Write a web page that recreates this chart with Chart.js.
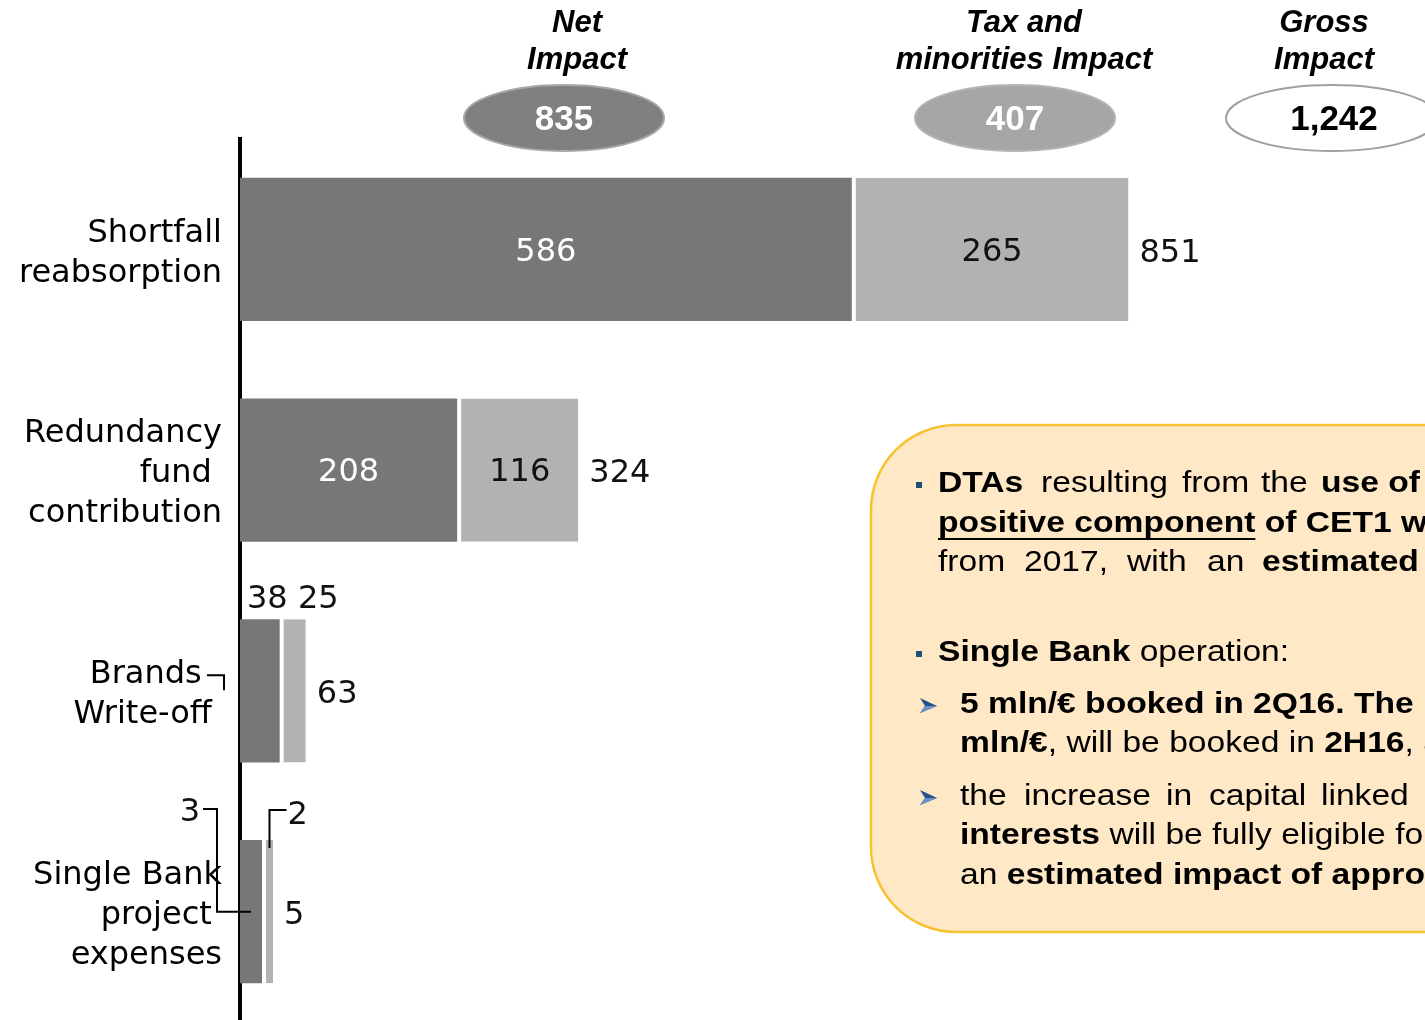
<!DOCTYPE html>
<html>
<head>
<meta charset="utf-8">
<script src="https://cdn.jsdelivr.net/npm/chart.js@4.4.1/dist/chart.umd.min.js"></script>
<style>
  html, body { margin: 0; padding: 0; background: #fff; overflow: hidden; }
  #wrap { width: 1425px; height: 1022px; position: relative; }
</style>
</head>
<body>
<div id="wrap"><canvas id="impactChart"></canvas></div>
<script>
// Data
const categories = [
    ['Shortfall', 'reabsorption'],
    ['Redundancy', 'fund ', 'contribution'],
    ['Brands  ', 'Write-off '],
    ['Single Bank', 'project ', 'expenses']
];
const netImpact = [586, 208, 38, 3];
const taxImpact = [265, 116, 25, 2];
const grossImpact = [851, 324, 63, 5];

const summaryTitles = [['Net', 'Impact'], ['Tax and', 'minorities Impact'], ['Gross', 'Impact']];
const summaryValues = ['835', '407', '1,242'];

const DARK = '#777777';
const LIGHT = '#b2b2b2';
const LABEL_FONT = '"DejaVu Sans", Verdana, sans-serif';
const ARIAL = '"Liberation Sans", Arial, sans-serif';

// draw a piece of text, optionally stretched horizontally; returns its width
function drawText(ctx, str, x, y, font, color, align, sx) {
    sx = sx || 1;
    ctx.save();
    ctx.font = font;
    ctx.fillStyle = color;
    ctx.textAlign = align || 'left';
    ctx.textBaseline = 'middle';
    ctx.translate(x, y);
    ctx.scale(sx, 1);
    ctx.fillText(str, 0, 0);
    const w = ctx.measureText(str).width * sx;
    ctx.restore();
    return w;
}

function line(ctx, pts) {
    ctx.save();
    ctx.strokeStyle = '#000';
    ctx.lineWidth = 2;
    ctx.beginPath();
    pts.forEach((p, i) => i ? ctx.lineTo(p[0], p[1]) : ctx.moveTo(p[0], p[1]));
    ctx.stroke();
    ctx.restore();
}

// stacked segments that got a minimum length must not hide the next one
const stackNudge = {
    id: 'stackNudge',
    afterDatasetsUpdate(chart) {
        const dark = chart.getDatasetMeta(0).data;
        const light = chart.getDatasetMeta(1).data;
        light.forEach((bar, i) => {
            const prevEnd = dark[i].x;
            if (bar.base < prevEnd - 0.5) {
                const shift = prevEnd - bar.base;
                bar.base += shift;
                bar.x += shift;
            }
        });
    }
};

// value labels, totals and leader lines
const barLabels = {
    id: 'barLabels',
    afterDatasetsDraw(chart) {
        const ctx = chart.ctx;
        const dark = chart.getDatasetMeta(0).data;
        const light = chart.getDatasetMeta(1).data;
        const font = '32px ' + LABEL_FONT;

        categories.forEach((c, i) => {
            const d = dark[i], l = light[i];
            const y = d.y;
            const top = y - d.height / 2;
            const lightMid = (l.base + 4 + l.x) / 2;

            if (d.x - d.base > 80) {
                drawText(ctx, String(netImpact[i]), (d.base + d.x) / 2, y + 3, font, '#fff', 'center');
                drawText(ctx, String(taxImpact[i]), lightMid, y + 3, font, '#111', 'center');
            } else if (i === 2) {
                drawText(ctx, netImpact[i] + ' ' + taxImpact[i], d.base + 7, top - 19, font, '#111', 'left');
            } else {
                const darkMid = (d.base + d.x) / 2;
                drawText(ctx, String(netImpact[i]), 200, top - 27, font, '#111', 'right');
                line(ctx, [[203, top - 31], [217, top - 31], [217, y], [darkMid, y]]);
                drawText(ctx, String(taxImpact[i]), lightMid + 18, top - 24, font, '#111', 'left');
                line(ctx, [[lightMid + 17, top - 30], [lightMid, top - 30], [lightMid, top + 8]]);
            }
            drawText(ctx, String(grossImpact[i]), l.x + 11, y + 4, font, '#111', 'left');
        });

        // stray leader next to "Brands"
        const b = dark[2];
        const bTop = b.y - b.height / 2;
        line(ctx, [[207, bTop + 56], [224, bTop + 56], [224, bTop + 71]]);
    }
};

// note box text: [text, style, x start]
const boxLines = [
    { y: 484, mark: 'square', runs: [['DTAs', 'b', 938], ['resulting', '', 1041], ['from', '', 1182], ['the', '', 1261], ['use of', 'b', 1321]] },
    { y: 524, runs: [['positive component', 'bu', 938], [' of CET1 which', 'b']] },
    { y: 563, runs: [['from', '', 938], ['2017,', '', 1024], ['with', '', 1127], ['an', '', 1207], ['estimated impact', 'b', 1262]] },
    { y: 653, mark: 'square', runs: [['Single Bank', 'b', 938], [' operation:', '']] },
    { y: 705, mark: 'arrow', runs: [['5 mln/\u20ac booked in 2Q16. The remaining', 'b', 960]] },
    { y: 744, runs: [['mln/\u20ac', 'b', 960], [', will be booked in ', ''], ['2H16', 'b'], [', and', '']] },
    { y: 797, mark: 'arrow', runs: [['the', '', 960], ['increase', '', 1024], ['in', '', 1166], ['capital', '', 1209], ['linked', '', 1321]] },
    { y: 836, runs: [['interests', 'b', 960], [' will be fully eligible for', '']] },
    { y: 876, runs: [['an ', '', 960], ['estimated impact of approx.', 'b']] }
];

const decorations = {
    id: 'decorations',
    afterDraw(chart) {
        const ctx = chart.ctx;

        // headers
        const centers = [577, 1024, 1324];
        summaryTitles.forEach((t, i) => {
            t.forEach((s, k) => drawText(ctx, s, centers[i], 23 + k * 37, 'italic bold 31px ' + ARIAL, '#000', 'center'));
        });

        // ellipses
        const ell = [
            { x: 564, fill: '#808080', stroke: '#a8a8a8', text: '#fff' },
            { x: 1015, fill: '#a6a6a6', stroke: '#b4b4b4', text: '#fff' },
            { x: 1332, fill: '#ffffff', stroke: '#a0a0a0', text: '#000' }
        ];
        ell.forEach((e, i) => {
            ctx.save();
            ctx.beginPath();
            ctx.ellipse(e.x, 118, i === 2 ? 106 : 100, 33, 0, 0, Math.PI * 2);
            ctx.fillStyle = e.fill;
            ctx.fill();
            ctx.lineWidth = 2;
            ctx.strokeStyle = e.stroke;
            ctx.stroke();
            ctx.restore();
            drawText(ctx, summaryValues[i], e.x + (i === 2 ? 2 : 0), 120, 'bold 35px ' + ARIAL, e.text, 'center');
        });

        // note box
        ctx.save();
        ctx.beginPath();
        ctx.roundRect(871, 425, 800, 507, 85);
        ctx.fillStyle = '#fee8c6';
        ctx.fill();
        ctx.lineWidth = 2.5;
        ctx.strokeStyle = '#f7c232';
        ctx.stroke();
        ctx.restore();

        const sx = 1.12;
        boxLines.forEach(ln => {
            if (ln.mark === 'square') {
                ctx.fillStyle = '#1f4e79';
                ctx.fillRect(916, ln.y - 2, 6, 6);
            } else if (ln.mark === 'arrow') {
                ctx.save();
                ctx.beginPath();
                ctx.moveTo(920, ln.y - 7);
                ctx.lineTo(937, ln.y + 1);
                ctx.lineTo(920, ln.y + 8);
                ctx.lineTo(925, ln.y + 1);
                ctx.closePath();
                ctx.fillStyle = '#24508f';
                ctx.fill();
                ctx.beginPath();
                ctx.moveTo(925, ln.y + 1);
                ctx.lineTo(937, ln.y + 1);
                ctx.lineTo(920, ln.y + 8);
                ctx.closePath();
                ctx.fillStyle = '#6d93c8';
                ctx.fill();
                ctx.restore();
            }
            let x = 0;
            ln.runs.forEach(r => {
                if (r[2] !== undefined) x = r[2];
                const bold = r[1].indexOf('b') >= 0;
                const w = drawText(ctx, r[0], x, ln.y, (bold ? 'bold ' : '') + '30px ' + ARIAL, '#000', 'left', sx);
                if (r[1].indexOf('u') >= 0) {
                    ctx.fillStyle = '#000';
                    ctx.fillRect(x, ln.y + 14, w, 2);
                }
                x += w;
            });
        });
    }
};

const ctx = document.getElementById('impactChart').getContext('2d');
const chart = new Chart(ctx, {
    type: 'bar',
    data: {
        labels: categories,
        datasets: [
            {
                label: 'Net Impact',
                data: netImpact,
                backgroundColor: DARK,
                borderWidth: 0,
                minBarLength: 22
            },
            {
                label: 'Tax and minorities Impact',
                data: taxImpact,
                backgroundColor: LIGHT,
                borderColor: '#ffffff',
                borderWidth: { left: 4, right: 0, top: 0, bottom: 0 },
                borderSkipped: false,
                minBarLength: 11
            }
        ]
    },
    options: {
        indexAxis: 'y',
        responsive: true,
        maintainAspectRatio: false,
        animation: false,
        layout: { padding: { top: 139, right: 0, bottom: 0, left: 0 } },
        datasets: { bar: { categoryPercentage: 1, barPercentage: 0.65 } },
        scales: {
            x: { stacked: true, min: 0, max: 1135, display: false },
            y: {
                stacked: true,
                z: 1,
                afterFit: (scale) => {
                    scale.width = 240;
                    scale.paddingTop = 0;
                    scale.paddingBottom = 0;
                },
                grid: { display: false, drawTicks: false },
                border: { display: true, color: '#000', width: 4 },
                ticks: {
                    padding: 18,
                    labelOffset: 4,
                    color: '#000',
                    font: { family: LABEL_FONT, size: 32, lineHeight: 1.25 }
                }
            }
        },
        plugins: {
            legend: { display: false },
            tooltip: { enabled: false }
        }
    },
    plugins: [stackNudge, barLabels, decorations]
});
</script>
</body>
</html>
